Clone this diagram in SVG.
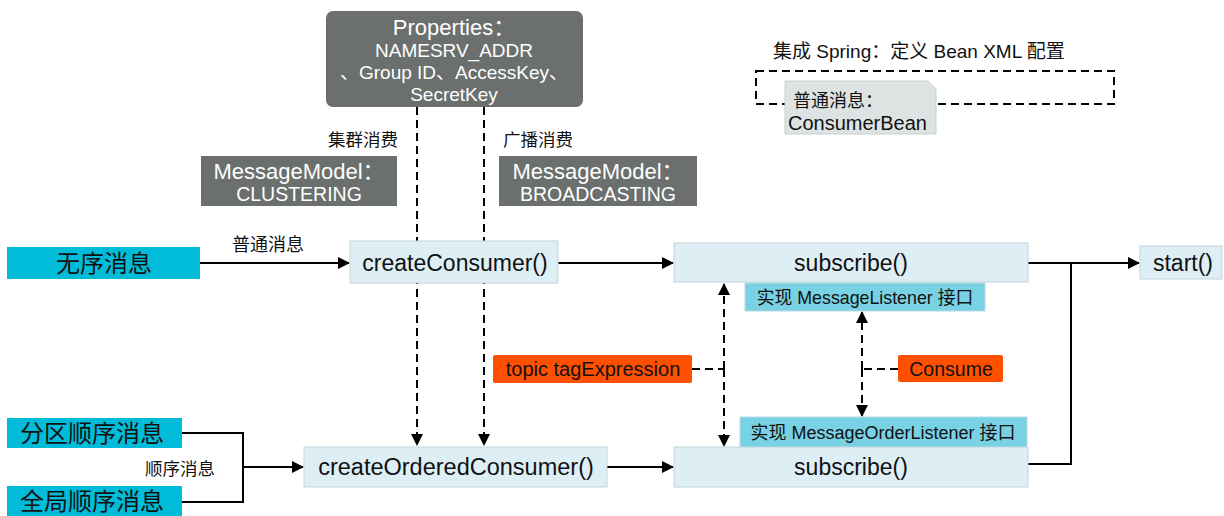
<svg xmlns="http://www.w3.org/2000/svg" width="1224" height="516" viewBox="0 0 1224 516">
<defs>
<marker id="ah" markerWidth="12" markerHeight="12" refX="11" refY="6" orient="auto" markerUnits="userSpaceOnUse"><path d="M0,0 L12,6 L0,12 Z" fill="#000"/></marker>
<style>
text{font-family:"Liberation Sans","Noto Sans CJK SC",sans-serif;fill:#111;}
.grey{fill:#6b6f6e;}
.wt{fill:#fff;text-anchor:middle;}
.cyan{fill:#00bcd9;}
.light{fill:#ddeef5;stroke:#c3d3da;stroke-width:1;}
.mid{fill:#78d2e4;stroke:#b8dbe3;stroke-width:1;}
.orange{fill:#fe5000;}
.ln{fill:none;stroke:#000;stroke-width:2;}
.dash{fill:none;stroke:#000;stroke-width:2;stroke-dasharray:8,5;}
.c{text-anchor:middle;}
</style>
</defs>
<rect width="1224" height="516" fill="#fff"/>

<g id="connectors">
<path class="dash" d="M417,107 V445" marker-end="url(#ah)"/>
<path class="dash" d="M484,107 V445" marker-end="url(#ah)"/>
<path class="ln" d="M200,263 H349" marker-end="url(#ah)"/>
<path class="ln" d="M558,263 H673" marker-end="url(#ah)"/>
<path class="ln" d="M1028,263 H1139" marker-end="url(#ah)"/>
<path class="ln" d="M1071,263 V464 H1028"/>
<path class="ln" d="M182,433 H243 V502 H182"/>
<path class="ln" d="M243,467 H303" marker-end="url(#ah)"/>
<path class="ln" d="M607,467 H673" marker-end="url(#ah)"/>
<path class="dash" d="M724,369 V284" marker-end="url(#ah)"/>
<path class="dash" d="M724,369 V446" marker-end="url(#ah)"/>
<path class="dash" d="M692,369 H724"/>
<path class="dash" d="M862,369 V312" marker-end="url(#ah)"/>
<path class="dash" d="M862,369 V416" marker-end="url(#ah)"/>
<path class="dash" d="M898,369 H862"/>
<text x="268" y="251" font-size="18" class="c">普通消息</text>
<text x="180" y="475" font-size="17.5" class="c">顺序消息</text>
<text x="398" y="146" font-size="17.5" text-anchor="end">集群消费</text>
<text x="503" y="146" font-size="17.5">广播消费</text>
</g>

<g id="properties">
<rect x="326" y="11" width="257" height="96" rx="7" class="grey"/>
<text x="454" y="35" class="wt" font-size="22">Properties：</text>
<text x="454" y="57" class="wt" font-size="19">NAMESRV_ADDR</text>
<text x="454" y="79" class="wt" font-size="19">、Group ID、AccessKey、</text>
<text x="454" y="101" class="wt" font-size="19">SecretKey</text>
</g>

<g id="clustering">
<rect x="201" y="156" width="196" height="50" class="grey"/>
<text x="299" y="179" class="wt" font-size="22">MessageModel：</text>
<text x="299" y="201" class="wt" font-size="19.5">CLUSTERING</text>
</g>

<g id="broadcasting">
<rect x="499" y="156" width="198" height="50" class="grey"/>
<text x="598" y="179" class="wt" font-size="22">MessageModel：</text>
<text x="598" y="201" class="wt" font-size="19.5">BROADCASTING</text>
</g>

<g id="spring">
<text x="773" y="58" font-size="19">集成 Spring：定义 Bean XML 配置</text>
<rect x="756" y="71" width="358" height="33" class="dash"/>
</g>

<g id="consumerbean">
<path d="M785,81 H928 L936,89 V134 H785 Z" fill="#dde3e3" stroke="#c8cfcf" stroke-width="1"/>
<text x="793" y="107" font-size="18">普通消息：</text>
<text x="788" y="130" font-size="20">ConsumerBean</text>
</g>

<g id="unordered">
<rect x="7" y="247" width="193" height="32" class="cyan"/>
<text x="104" y="272" font-size="24" class="c">无序消息</text>
</g>

<g id="createConsumer">
<rect x="350" y="241" width="208" height="42" class="light"/>
<text x="455" y="271" font-size="23" class="c">createConsumer()</text>
</g>

<g id="subscribeTop">
<rect x="674" y="243" width="354" height="39" class="light"/>
<text x="851" y="271" font-size="23" class="c">subscribe()</text>
</g>

<g id="start">
<rect x="1140" y="246" width="82" height="33" class="light"/>
<text x="1183" y="271" font-size="23" class="c">start()</text>
</g>

<g id="messageListener">
<rect x="745" y="283" width="240" height="28" class="mid"/>
<text x="865" y="304" font-size="17.8" class="c">实现 MessageListener 接口</text>
</g>

<g id="tagExpression">
<rect x="493" y="355" width="199" height="28" rx="2" class="orange"/>
<text x="593" y="376" font-size="20" class="c">topic tagExpression</text>
</g>

<g id="consume">
<rect x="898" y="355" width="105" height="27" rx="2" class="orange"/>
<text x="951" y="376" font-size="19.5" class="c">Consume</text>
</g>

<g id="messageOrderListener">
<rect x="740" y="417" width="287" height="31" class="mid"/>
<text x="883" y="439" font-size="18" class="c">实现 MessageOrderListener 接口</text>
</g>

<g id="subscribeBottom">
<rect x="674" y="447" width="354" height="40" class="light"/>
<text x="851" y="475" font-size="23" class="c">subscribe()</text>
</g>

<g id="createOrderedConsumer">
<rect x="304" y="447" width="303" height="40" class="light"/>
<text x="456" y="475" font-size="23.5" class="c">createOrderedConsumer()</text>
</g>

<g id="partitionOrdered">
<rect x="7" y="418" width="175" height="30" class="cyan"/>
<text x="92" y="442" font-size="24" class="c">分区顺序消息</text>
</g>

<g id="globalOrdered">
<rect x="7" y="486" width="175" height="30" class="cyan"/>
<text x="92" y="510" font-size="24" class="c">全局顺序消息</text>
</g>
</svg>
